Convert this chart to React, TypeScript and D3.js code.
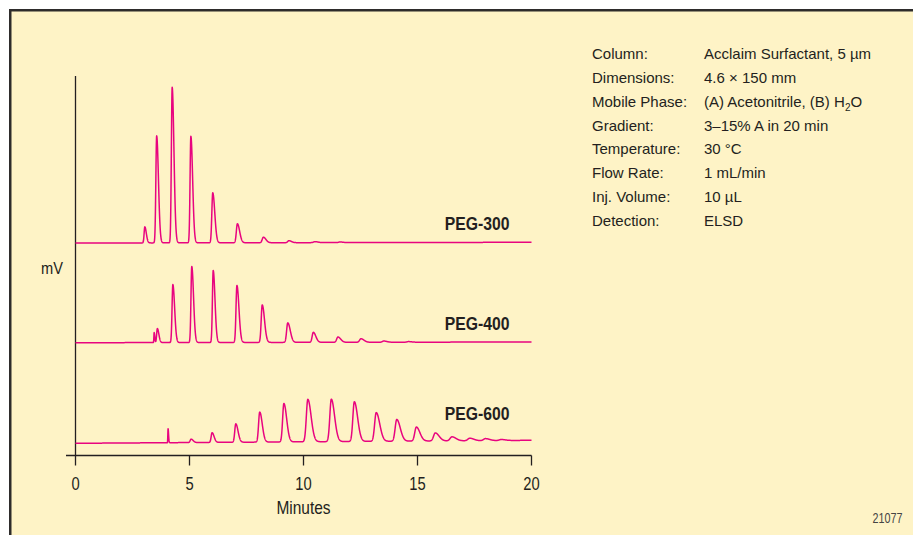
import React from "react";
import * as d3 from "d3";

// Chromatographic conditions shown in the note block
const conditionKeys = [
  "Column:",
  "Dimensions:",
  "Mobile Phase:",
  "Gradient:",
  "Temperature:",
  "Flow Rate:",
  "Inj. Volume:",
  "Detection:",
];
const conditionValues = [
  "Acclaim Surfactant, 5 µm",
  "4.6 × 150 mm",
  "(A) Acetonitrile, (B) H_2O",
  "3–15% A in 20 min",
  "30 °C",
  "1 mL/min",
  "10 µL",
  "ELSD",
];

const xTicks = [0, 5, 10, 15, 20];

// Peak tables (retention time in min, height in signal units, rising-edge width in min)
const peg300Times = [3.04, 3.56, 4.24, 5.06, 6.02, 7.1, 8.24, 9.36, 10.5, 11.6];
const peg300Heights = [16, 107, 155.5, 106.5, 50, 19, 5.5, 2, 1, 0.6];
const peg300Widths = [0.03, 0.035, 0.035, 0.035, 0.04, 0.045, 0.05, 0.05, 0.06, 0.06];

const peg400Times = [3.45, 3.59, 4.27, 5.1, 6.04, 7.08, 8.19, 9.31, 10.43, 11.51, 12.52, 13.52, 14.6];
const peg400Heights = [10, 14, 58, 76, 72, 57, 37.5, 19.5, 10, 5.3, 3.5, 1.2, 0.6];
const peg400Widths = [0.012, 0.03, 0.035, 0.035, 0.035, 0.04, 0.045, 0.05, 0.05, 0.055, 0.06, 0.06, 0.06];

const peg600Times = [4.06, 5.07, 5.99, 7.03, 8.08, 9.14, 10.19, 11.22, 12.23, 13.19, 14.09, 14.95, 15.78, 16.51, 17.29, 17.98, 18.67];
const peg600Heights = [14, 3.4, 9.7, 18.4, 30, 38.4, 42.4, 42.4, 39.7, 28.7, 21.7, 14, 8, 4, 2.5, 2, 1];
const peg600Widths = [0.01, 0.04, 0.04, 0.045, 0.05, 0.055, 0.065, 0.065, 0.065, 0.07, 0.07, 0.07, 0.075, 0.08, 0.08, 0.08, 0.08];

// Baseline level of each trace at 0 and 20 min (stacked offsets)
const seriesNames = ["PEG-300", "PEG-400", "PEG-600"];
const baselineStart = [212.5, 112.8, 12.2];
const baselineEnd = [213.2, 113.5, 15.2];

const TAIL = 2.2;
const W = 913;
const H = 535;
const BG = "#fef3c6";
const INK = "#231f20";
const TRACE = "#e8047f";
const SANS = "'Liberation Sans', Arial, sans-serif";

const tables = [
  { t: peg300Times, h: peg300Heights, w: peg300Widths },
  { t: peg400Times, h: peg400Heights, w: peg400Widths },
  { t: peg600Times, h: peg600Heights, w: peg600Widths },
];

function signalAt(t: number, i: number) {
  const tab = tables[i];
  let v = baselineStart[i] + ((baselineEnd[i] - baselineStart[i]) * t) / 20;
  for (let k = 0; k < tab.t.length; k++) {
    const d = t - tab.t[k];
    const s = d < 0 ? tab.w[k] : tab.w[k] * TAIL;
    v += tab.h[k] * Math.exp(-0.5 * (d / s) * (d / s));
  }
  return v;
}

// Horizontally condensed text, squeezed around its anchor point
function Narrow(props: {
  x: number;
  y: number;
  squeeze: number;
  size: number;
  anchor?: string;
  weight?: string;
  fill?: string;
  children: React.ReactNode;
}) {
  const { x, y, squeeze, size, anchor = "start", weight = "normal", fill = INK, children } = props;
  return (
    <g transform={`translate(${x},${y}) scale(${squeeze},1)`}>
      <text x={0} y={0} textAnchor={anchor} fontFamily={SANS} fontSize={size} fontWeight={weight} fill={fill}>
        {children}
      </text>
    </g>
  );
}

export default function App() {
  const x = d3.scaleLinear().domain([0, 20]).range([75.5, 531.5]);
  const y = d3.scaleLinear().domain([0, 380]).range([455.5, 75.5]);
  const grid = d3.range(0, 20.0001, 0.005);

  const paths = seriesNames.map((_, i) =>
    d3
      .line<number>()
      .x((t) => x(t))
      .y((t) => y(signalAt(t, i)))(grid)
  );

  const axisY = y(0);
  const labelY = [229.5, 329.5, 420];
  const rowBase = 59;
  const rowStep = 23.85;

  return (
    <svg
      width={W}
      height={H}
      style={{ position: "absolute", left: 0, top: 0, background: "#fff" }}
    >
      <rect x={10.25} y={10.25} width={1000} height={1000} fill={BG} stroke="#2e2c2b" strokeWidth={2.5} />

      {/* axes */}
      <line x1={66} x2={x(20)} y1={axisY} y2={axisY} stroke={INK} strokeWidth={1.3} />
      <line x1={x(0)} x2={x(0)} y1={76} y2={axisY} stroke={INK} strokeWidth={1.3} />
      {xTicks.map((v) => (
        <g key={v}>
          <line x1={x(v)} x2={x(v)} y1={axisY} y2={axisY + 10} stroke={INK} strokeWidth={1.3} />
          <Narrow x={x(v)} y={490} squeeze={0.82} size={18} anchor="middle">
            {v}
          </Narrow>
        </g>
      ))}
      <Narrow x={303.5} y={513.5} squeeze={0.86} size={18} anchor="middle">
        Minutes
      </Narrow>
      <Narrow x={52} y={274} squeeze={0.86} size={17} anchor="middle">
        mV
      </Narrow>

      {/* traces */}
      {paths.map((d, i) => (
        <path key={i} d={d || ""} fill="none" stroke={TRACE} strokeWidth={1.5} strokeLinejoin="round" />
      ))}
      {seriesNames.map((n, i) => (
        <Narrow key={n} x={509.5} y={labelY[i]} squeeze={0.83} size={19} anchor="end" weight="bold">
          {n}
        </Narrow>
      ))}

      {/* conditions */}
      {conditionKeys.map((k, i) => {
        const yy = rowBase + i * rowStep;
        const val = conditionValues[i];
        const parts = val.split("_");
        return (
          <g key={k}>
            <text x={592} y={yy} fontFamily={SANS} fontSize={15} fill={INK}>
              {k}
            </text>
            <text x={704} y={yy} fontFamily={SANS} fontSize={15} fill={INK}>
              {parts.length === 1 ? (
                val
              ) : (
                <>
                  {parts[0]}
                  <tspan fontSize={10} dy={4}>
                    {parts[1][0]}
                  </tspan>
                  <tspan dy={-4}>{parts[1].slice(1)}</tspan>
                </>
              )}
            </text>
          </g>
        );
      })}

      <Narrow x={887.5} y={523} squeeze={0.77} size={14} anchor="middle" fill="#444">
        21077
      </Narrow>
    </svg>
  );
}
